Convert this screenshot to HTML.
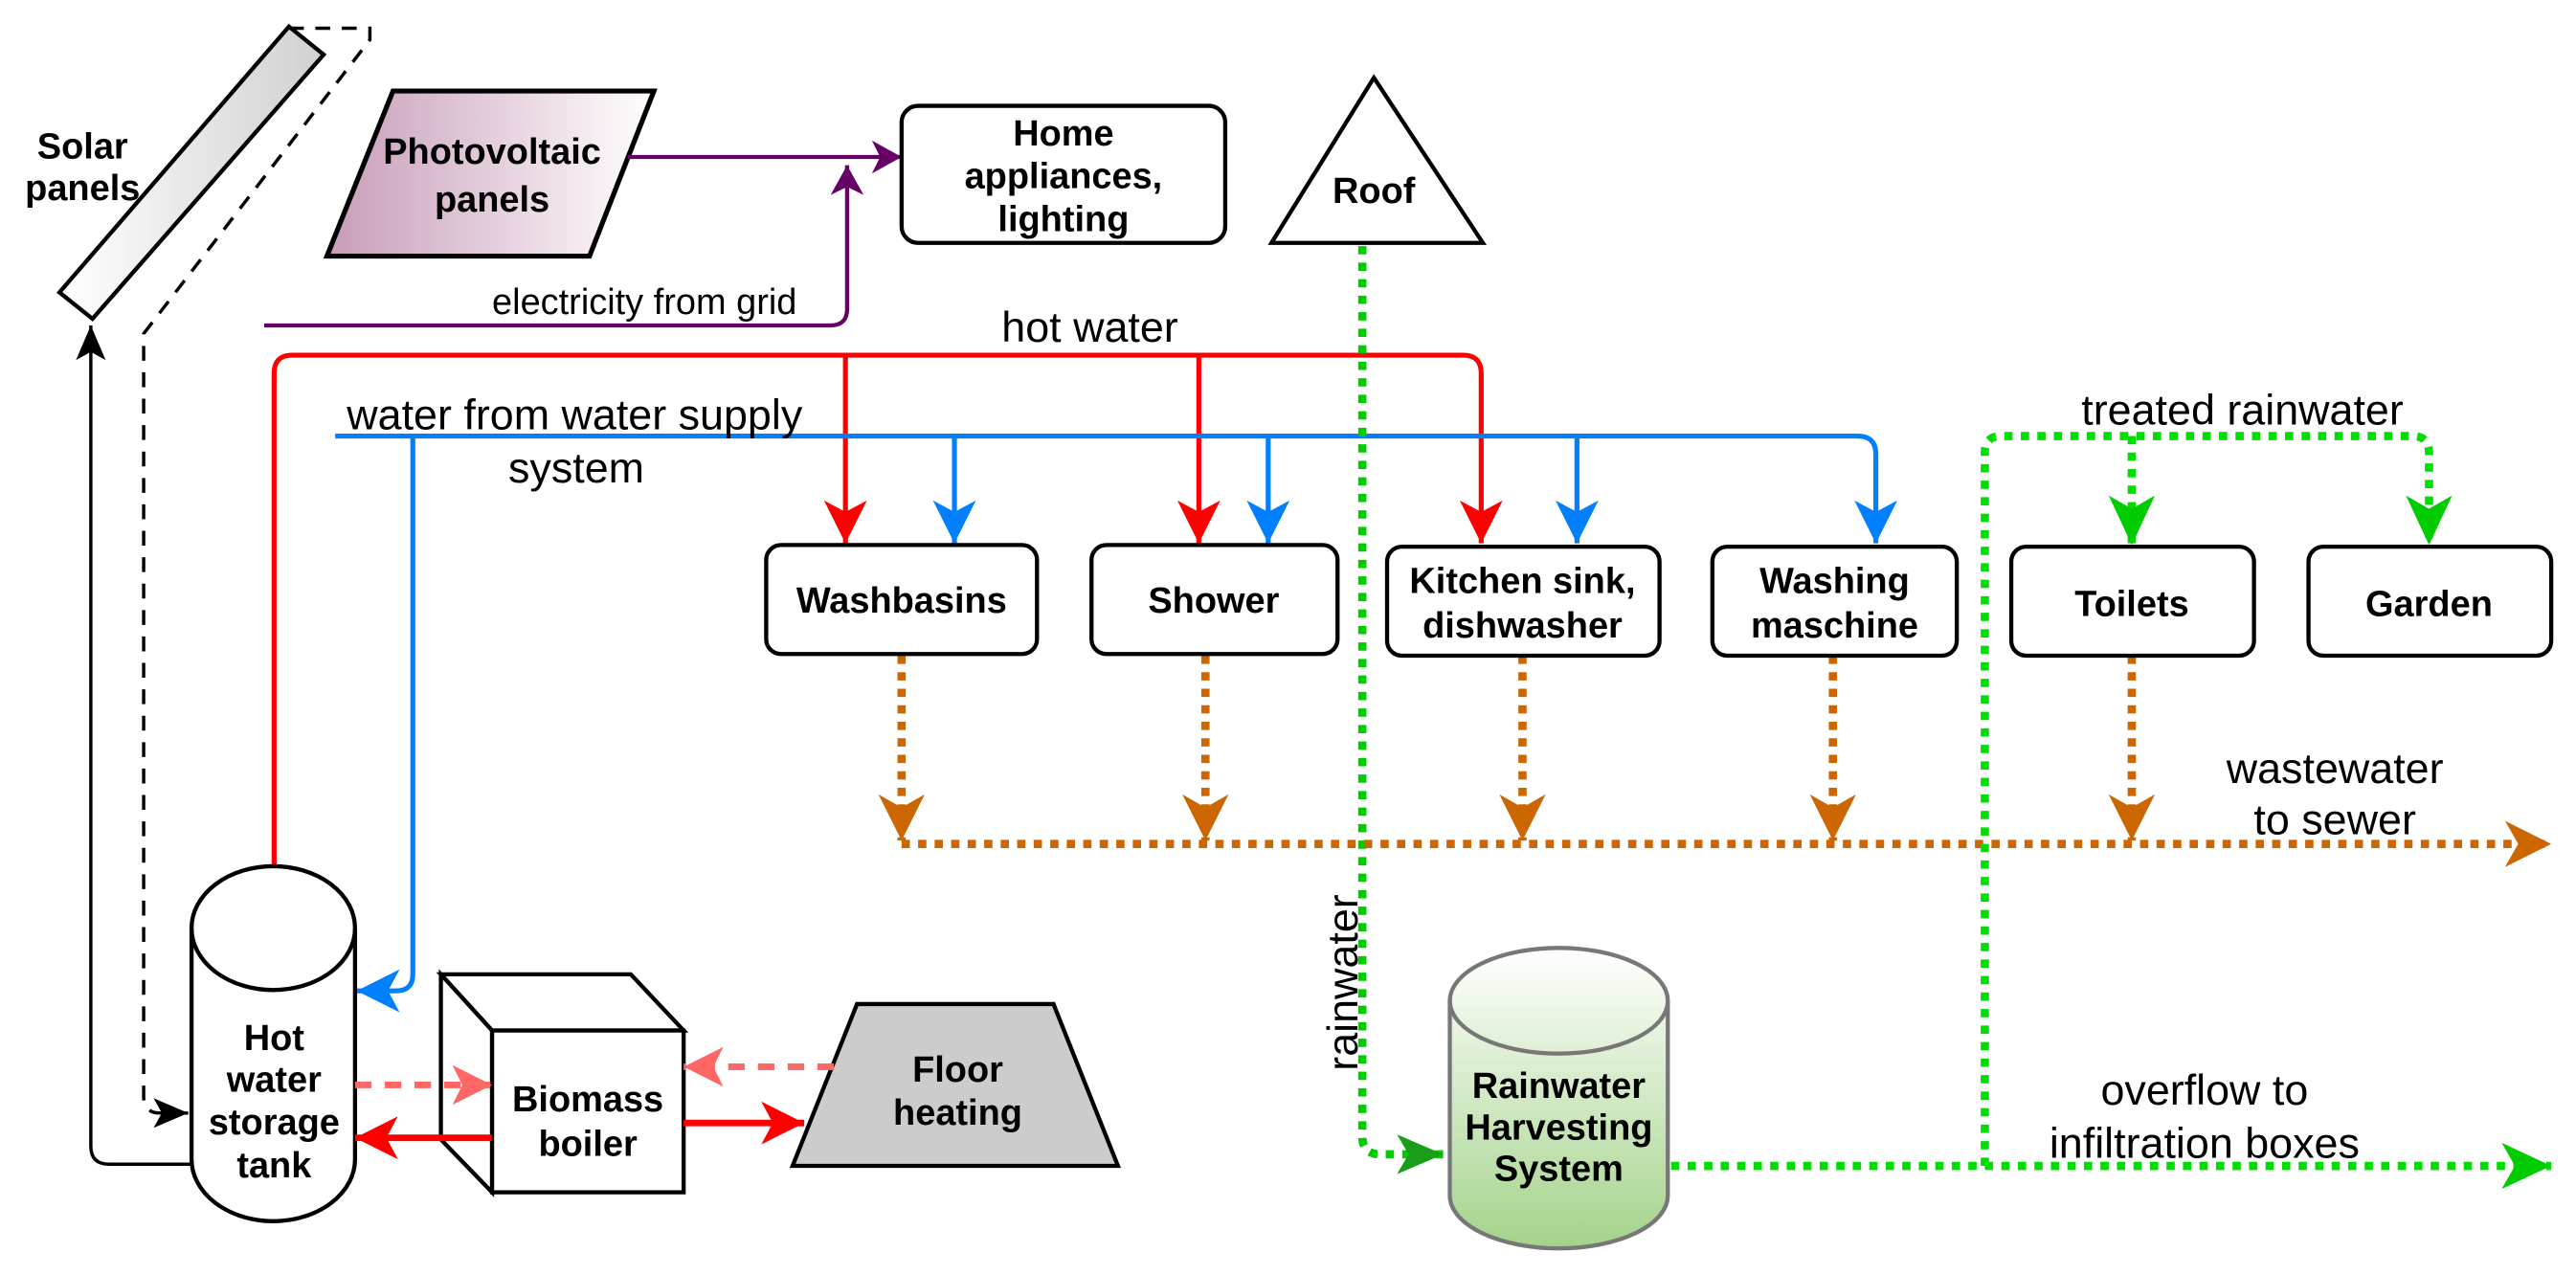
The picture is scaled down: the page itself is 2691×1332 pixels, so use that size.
<!DOCTYPE html>
<html><head><meta charset="utf-8"><style>
html,body{margin:0;padding:0;background:#fff;}
svg{display:block;}
text{font-family:"Liberation Sans",Arial,sans-serif;fill:#000;}
.b{font-weight:bold;font-size:22px;text-anchor:middle;dominant-baseline:central;}
.n{font-size:26px;}
</style></head><body>
<svg width="2691" height="1332" viewBox="0 0 1560 772" xmlns="http://www.w3.org/2000/svg">
<defs>
<linearGradient id="gs" x1="0" y1="0" x2="1" y2="0"><stop offset="0" stop-color="#fff"/><stop offset="1" stop-color="#d0d0d0"/></linearGradient>
<linearGradient id="gp" x1="0" y1="0" x2="1" y2="0"><stop offset="0" stop-color="#c79cb8"/><stop offset="1" stop-color="#fff"/></linearGradient>
<linearGradient id="gg" x1="0" y1="0" x2="0" y2="1"><stop offset="0" stop-color="#fff"/><stop offset="1" stop-color="#a3d38a"/></linearGradient>
<marker id="mr" markerUnits="userSpaceOnUse" markerWidth="26" markerHeight="26" refX="26" refY="13" orient="auto" viewBox="0 0 26 26"><path d="M0,0 L26,13 L0,26 L7,13Z" fill="#ff0000"/></marker>
<marker id="mb" markerUnits="userSpaceOnUse" markerWidth="26" markerHeight="26" refX="26" refY="13" orient="auto" viewBox="0 0 26 26"><path d="M0,0 L26,13 L0,26 L7,13Z" fill="#007fff"/></marker>
<marker id="mo" markerUnits="userSpaceOnUse" markerWidth="28" markerHeight="28" refX="28" refY="14" orient="auto" viewBox="0 0 28 28"><path d="M0,0 L28,14 L0,28 L8,14Z" fill="#cc6600"/></marker>
<marker id="mg" markerUnits="userSpaceOnUse" markerWidth="30" markerHeight="28" refX="30" refY="14" orient="auto" viewBox="0 0 30 28"><path d="M0,0 L30,14 L0,28 L8,14Z" fill="#00cc00"/></marker>
<marker id="mdg" markerUnits="userSpaceOnUse" markerWidth="28" markerHeight="24" refX="28" refY="12" orient="auto" viewBox="0 0 28 24"><path d="M0,0 L28,12 L0,24 L7,12Z" fill="#1a9e1a"/></marker>
<marker id="mpu" markerUnits="userSpaceOnUse" markerWidth="18" markerHeight="20" refX="18" refY="10" orient="auto" viewBox="0 0 18 20"><path d="M0,0 L18,10 L0,20 L5,10Z" fill="#660066"/></marker>
<marker id="mk" markerUnits="userSpaceOnUse" markerWidth="21" markerHeight="18" refX="21" refY="9" orient="auto" viewBox="0 0 21 18"><path d="M0,0 L21,9 L0,18 L5,9Z" fill="#000"/></marker>
<marker id="mpk" markerUnits="userSpaceOnUse" markerWidth="24" markerHeight="24" refX="24" refY="12" orient="auto" viewBox="0 0 24 24"><path d="M0,0 L24,12 L0,24 L6,12Z" fill="#ff6666"/></marker>
</defs>

<!-- Solar panel -->
<polygon points="175,16 196,33 56,193 36,177" fill="url(#gs)" stroke="#000" stroke-width="2.5"/>
<text class="b" x="50" y="89">Solar</text>
<text class="b" x="50" y="114">panels</text>
<path d="M175,17 H224 V24 L87,202 V664 Q87,674 97,674 H114" fill="none" stroke="#000" stroke-width="2" stroke-dasharray="9,7" marker-end="url(#mk)"/>
<path d="M116,705 H66 Q55,705 55,694 V197" fill="none" stroke="#000" stroke-width="2" marker-end="url(#mk)"/>

<!-- PV -->
<polygon points="238,55 396,55 357,155 198,155" fill="url(#gp)" stroke="#000" stroke-width="3"/>
<text class="b" x="298" y="92">Photovoltaic</text>
<text class="b" x="298" y="121">panels</text>
<path d="M380,95 H546" fill="none" stroke="#660066" stroke-width="2.5" marker-end="url(#mpu)"/>
<path d="M160,197 H503 Q513,197 513,187 V100" fill="none" stroke="#660066" stroke-width="2.5" marker-end="url(#mpu)"/>
<text x="298" y="190" font-size="22">electricity from grid</text>

<rect x="546" y="64" width="196" height="83" rx="10" fill="#fff" stroke="#000" stroke-width="2.5"/>
<text class="b" x="644" y="81">Home</text>
<text class="b" x="644" y="107">appliances,</text>
<text class="b" x="644" y="133">lighting</text>

<!-- Roof -->
<polygon points="832,47 898,147 770,147" fill="#fff" stroke="#000" stroke-width="2.5"/>
<text class="b" x="832" y="116">Roof</text>

<!-- hot water red -->
<path d="M166,525 V226 Q166,215 177,215 H886 Q897,215 897,226 V329" fill="none" stroke="#ff0000" stroke-width="3" marker-end="url(#mr)"/>
<path d="M512,215 V329" fill="none" stroke="#ff0000" stroke-width="3" marker-end="url(#mr)"/>
<path d="M726,215 V329" fill="none" stroke="#ff0000" stroke-width="3" marker-end="url(#mr)"/>
<text class="n" x="660" y="207" text-anchor="middle">hot water</text>

<!-- blue -->
<path d="M203,264 H1125 Q1136,264 1136,275 V329" fill="none" stroke="#007fff" stroke-width="3" marker-end="url(#mb)"/>
<path d="M578,264 V329" fill="none" stroke="#007fff" stroke-width="3" marker-end="url(#mb)"/>
<path d="M768,264 V329" fill="none" stroke="#007fff" stroke-width="3" marker-end="url(#mb)"/>
<path d="M955,264 V329" fill="none" stroke="#007fff" stroke-width="3" marker-end="url(#mb)"/>
<path d="M250,264 V590 Q250,600 240,600 H216" fill="none" stroke="#007fff" stroke-width="3" marker-end="url(#mb)"/>
<text class="n" x="210" y="260">water from water supply</text>
<text class="n" x="349" y="292" text-anchor="middle">system</text>

<!-- rain -->
<path d="M825,149 V688 Q825,699 836,699 H874" fill="none" stroke="#00cc00" stroke-width="5" stroke-dasharray="5,5" marker-end="url(#mdg)"/>
<text class="n" transform="translate(822,595) rotate(-90)" text-anchor="middle" font-size="25">rainwater</text>

<!-- wastewater -->
<g fill="none" stroke="#cc6600" stroke-width="5" stroke-dasharray="5,5">
<path d="M546,397 V509" marker-end="url(#mo)"/>
<path d="M730,397 V509" marker-end="url(#mo)"/>
<path d="M922,397 V509" marker-end="url(#mo)"/>
<path d="M1110,397 V509" marker-end="url(#mo)"/>
<path d="M1291,397 V509" marker-end="url(#mo)"/>
<path d="M546,511 H1545" marker-end="url(#mo)"/>
</g>
<text class="n" x="1414" y="474" text-anchor="middle">wastewater</text>
<text class="n" x="1414" y="505" text-anchor="middle">to sewer</text>

<!-- treated + overflow -->
<g fill="none" stroke="#00dd00" stroke-width="5" stroke-dasharray="5,5">
<path d="M1012,706 H1545" marker-end="url(#mg)"/>
<path d="M1202,706 V274 Q1202,264 1212,264 H1461 Q1471,264 1471,274 V330" marker-end="url(#mg)"/>
<path d="M1291,264 V330" marker-end="url(#mg)"/>
</g>
<text class="n" x="1358" y="257" text-anchor="middle">treated rainwater</text>
<text class="n" x="1335" y="669" text-anchor="middle">overflow to</text>
<text class="n" x="1335" y="701" text-anchor="middle">infiltration boxes</text>

<!-- boxes -->
<g fill="#fff" stroke="#000" stroke-width="2.5">
<rect x="464" y="330" width="164" height="66" rx="9"/>
<rect x="661" y="330" width="149" height="66" rx="9"/>
<rect x="840" y="331" width="165" height="66" rx="9"/>
<rect x="1037" y="331" width="148" height="66" rx="9"/>
<rect x="1218" y="331" width="147" height="66" rx="9"/>
<rect x="1398" y="331" width="147" height="66" rx="9"/>
</g>
<text class="b" x="546" y="364">Washbasins</text>
<text class="b" x="735" y="364">Shower</text>
<text class="b" x="922" y="352">Kitchen sink,</text>
<text class="b" x="922" y="379">dishwasher</text>
<text class="b" x="1111" y="352">Washing</text>
<text class="b" x="1111" y="379">maschine</text>
<text class="b" x="1291" y="366">Toilets</text>
<text class="b" x="1471" y="366">Garden</text>

<!-- rainwater tank -->
<path d="M878,606 A66,32 0 0 1 1010,606 V724 A66,32 0 0 1 878,724 Z" fill="url(#gg)" stroke="#777" stroke-width="2.5"/>
<path d="M878,606 A66,32 0 0 0 1010,606" fill="none" stroke="#777" stroke-width="2.5"/>
<text class="b" x="944" y="658" font-size="20">Rainwater</text>
<text class="b" x="944" y="683" font-size="20">Harvesting</text>
<text class="b" x="944" y="708" font-size="20">System</text>

<!-- hot water tank -->
<path d="M116,562 A49.5,37.5 0 0 1 215,562 V702 A49.5,37.5 0 0 1 116,702 Z" fill="#fff" stroke="#000" stroke-width="2.5"/>
<path d="M116,562 A49.5,37.5 0 0 0 215,562" fill="none" stroke="#000" stroke-width="2.5"/>
<text class="b" x="166" y="629">Hot</text>
<text class="b" x="166" y="654">water</text>
<text class="b" x="166" y="680">storage</text>
<text class="b" x="166" y="706">tank</text>

<!-- boiler -->
<g fill="#fff" stroke="#000" stroke-width="2.5" stroke-linejoin="miter">
<polygon points="267,590 382,590 414,624 298,624"/>
<polygon points="267,590 298,624 298,722 267,690"/>
<rect x="298" y="624" width="116" height="98"/>
</g>
<text class="b" x="356" y="666">Biomass</text>
<text class="b" x="356" y="693">boiler</text>

<!-- floor heating -->
<polygon points="519,608 638,608 677,706 480,706" fill="#cccccc" stroke="#000" stroke-width="2.5"/>
<text class="b" x="580" y="648">Floor</text>
<text class="b" x="580" y="674">heating</text>

<path d="M215,657 H298" fill="none" stroke="#ff6666" stroke-width="4" stroke-dasharray="10,8" marker-end="url(#mpk)"/>
<path d="M505,646 H414" fill="none" stroke="#ff6666" stroke-width="4" stroke-dasharray="10,8" marker-end="url(#mpk)"/>
<path d="M298,689 H215" fill="none" stroke="#ff0000" stroke-width="4" marker-end="url(#mr)"/>
<path d="M414,680 H487" fill="none" stroke="#ff0000" stroke-width="4" marker-end="url(#mr)"/>
</svg>
</body></html>
